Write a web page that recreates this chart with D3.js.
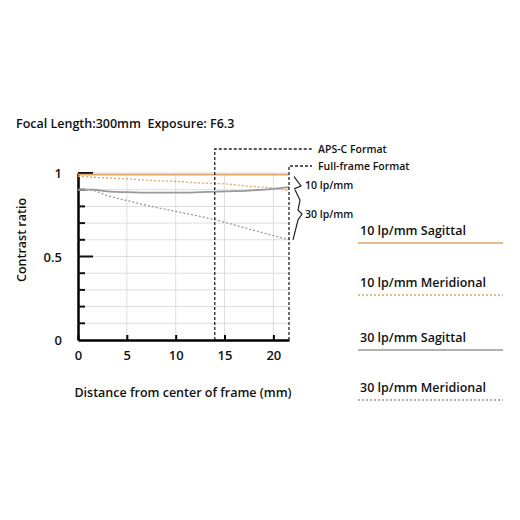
<!DOCTYPE html>
<html><head><meta charset="utf-8">
<script src="https://cdn.jsdelivr.net/npm/d3@7"></script>
<style>body{margin:0;background:#fff}text{font-family:"Open Sans",Roboto,sans-serif;fill:#111}</style>
</head><body><svg id="c" width="520" height="520"></svg>
<script>
const xs = [0, 1.5, 3, 5, 7.5, 10, 12.5, 15, 17.5, 20, 21.6];
const s10 = [0.99, 0.99, 0.99, 0.99, 0.99, 0.99, 0.99, 0.99, 0.99, 0.99, 0.99];
const m10 = [0.98, 0.975, 0.97, 0.965, 0.955, 0.95, 0.94, 0.935, 0.92, 0.91, 0.895];
const s30 = [0.9, 0.9, 0.89, 0.885, 0.882, 0.882, 0.885, 0.89, 0.895, 0.905, 0.915];
const m30 = [0.9, 0.895, 0.865, 0.835, 0.8, 0.77, 0.74, 0.705, 0.665, 0.625, 0.6];
const series = [
  {name: "10 lp/mm Sagittal", v: s10, color: "#dfa566", dash: null},
  {name: "10 lp/mm Meridional", v: m10, color: "#dfa566", dash: "2,2"},
  {name: "30 lp/mm Sagittal", v: s30, color: "#999", dash: null},
  {name: "30 lp/mm Meridional", v: m30, color: "#999", dash: "2,2"}
];
const svg = d3.select("#c");
const x = d3.scaleLinear([0, 21.6], [78, 289]);
const y = d3.scaleLinear([0, 1], [340, 173]);

svg.append("text").attr("x", 16).attr("y", 128).attr("font-size", 12.5).attr("font-weight", 600)
  .text("Focal Length:300mm\u00a0\u00a0Exposure: F6.3");

// grid
svg.append("g").selectAll("line").data(d3.range(1, 11).map(i => i / 10)).join("line")
  .attr("x1", 78).attr("x2", 289).attr("y1", d => y(d)).attr("y2", d => y(d)).attr("stroke", "#ddd");
svg.append("g").selectAll("line").data([5, 10, 15, 20]).join("line")
  .attr("x1", d => x(d)).attr("x2", d => x(d)).attr("y1", 173).attr("y2", 340).attr("stroke", "#ddd");

// axes
svg.append("g").attr("transform", "translate(0,340)")
  .call(d3.axisBottom(x).tickValues([0, 5, 10, 15, 20]).tickSize(5).tickPadding(6).tickSizeOuter(0))
  .call(g => { g.select(".domain").attr("stroke-width", 2.5); g.selectAll("line").attr("stroke-width", 2).attr("transform", "translate(0,-5)"); g.selectAll("text").attr("font-size", 13).attr("font-weight", 600); });
svg.append("g").attr("transform", "translate(78,0)")
  .call(d3.axisLeft(y).tickValues(d3.range(0, 11).map(i => i / 10)).tickSize(0).tickFormat(() => ""))
  .call(g => g.select(".domain").attr("stroke-width", 2.5));
svg.append("g").selectAll("line").data(d3.range(1, 11).map(i => i / 10)).join("line")
  .attr("x1", 78).attr("x2", d => (Math.round(d * 10) % 5 === 0) ? 93 : 85)
  .attr("y1", d => y(d)).attr("y2", d => y(d)).attr("stroke", "#111").attr("stroke-width", 2);
svg.append("g").selectAll("text").data([0, 0.5, 1]).join("text")
  .attr("x", 62).attr("y", d => y(d) + 5).attr("text-anchor", "end").attr("font-size", 13).attr("font-weight", 600)
  .text(d => d);

// curves
const line = d3.line().x((d, i) => x(xs[i])).y(d => y(d)).curve(d3.curveMonotoneX);
svg.append("g").selectAll("path").data(series).join("path")
  .attr("d", d => line(d.v)).attr("fill", "none").attr("stroke", d => d.color)
  .attr("stroke-width", d => d.dash ? 1.3 : 1.8).attr("stroke-dasharray", d => d.dash);

// format markers
const ann = svg.append("g").attr("stroke", "#222").attr("stroke-dasharray", "3,2").attr("stroke-width", 1.3);
ann.append("path").attr("d", `M${x(14)},340V149H312`).attr("fill", "none");
ann.append("path").attr("d", `M${x(21.6)},340V166H312`).attr("fill", "none");
svg.append("text").attr("x", 318).attr("y", 153).attr("font-size", 10.5).attr("font-weight", 600).text("APS-C Format");
svg.append("text").attr("x", 318).attr("y", 170).attr("font-size", 10.5).attr("font-weight", 600).text("Full-frame Format");

// braces
const br = svg.append("g").attr("fill", "none").attr("stroke", "#222").attr("stroke-width", 1.2);
br.append("path").attr("d", `M294,${y(0.99) + 2}L301,186L294,${y(0.905)}`);
br.append("path").attr("d", `M295,${y(0.9)}L300,200L298,210L302,214L298,220L293,${y(0.6)}`);
svg.append("text").attr("x", 305).attr("y", 189).attr("font-size", 10.5).attr("font-weight", 600).text("10 lp/mm");
svg.append("text").attr("x", 305).attr("y", 218).attr("font-size", 10.5).attr("font-weight", 600).text("30 lp/mm");

// labels
svg.append("text").attr("transform", "translate(26,240) rotate(-90)").attr("text-anchor", "middle")
  .attr("font-size", 12.5).attr("font-weight", 600).text("Contrast ratio");
svg.append("text").attr("x", 183).attr("y", 397).attr("text-anchor", "middle")
  .attr("font-size", 12.5).attr("font-weight", 600).text("Distance from center of frame (mm)");

// legend
const lg = svg.append("g").selectAll("g").data(series).join("g")
  .attr("transform", (d, i) => `translate(358,${[243, 295, 350, 400][i]})`);
lg.append("text").attr("y", -8).attr("x", 2).attr("font-size", 12.5).attr("font-weight", 600).text(d => d.name);
lg.append("line").attr("x1", 0).attr("x2", 145).attr("stroke", d => d.color)
  .attr("stroke-width", d => d.dash ? 1.3 : 1.6).attr("stroke-dasharray", d => d.dash);
</script></body></html>
